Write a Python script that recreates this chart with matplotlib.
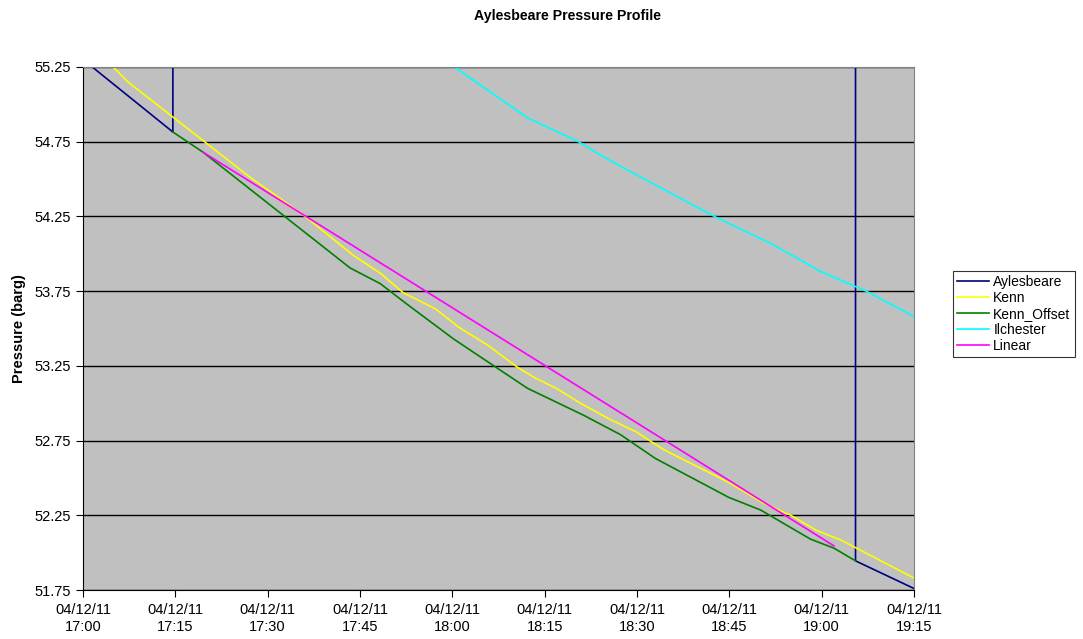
import matplotlib.pyplot as plt
import matplotlib.dates as mdates
import pandas as pd

plt.rcParams['font.family'] = ['Liberation Sans', 'DejaVu Sans']

day = "2011-12-04 "

ayl_times = ["17:00:00", "17:14:36", "17:14:36", "19:05:30", "19:05:30", "19:15:00"]
ayl_vals = [55.30, 54.815, 58.0, 58.0, 51.945, 51.76]

kenn_times = ["17:03:00", "17:07:18", "17:27:12", "17:31:42", "17:36:24", "17:43:54",
              "17:48:18", "17:52:00", "17:57:18", "18:01:00", "18:05:42", "18:10:36",
              "18:13:12", "18:17:06", "18:20:48", "18:25:42", "18:29:48", "18:34:18",
              "18:44:54", "18:50:36", "18:55:00", "18:59:06", "19:03:06", "19:15:00"]
kenn_vals = [55.33, 55.15, 54.51, 54.38, 54.24, 53.99,
             53.87, 53.74, 53.63, 53.51, 53.39, 53.24,
             53.175, 53.095, 53.00, 52.89, 52.81, 52.69,
             52.47, 52.33, 52.25, 52.15, 52.085, 51.83]

offset_times = ["17:14:36", "17:19:30", "17:43:24", "17:48:18", "17:52:24", "18:00:12",
                "18:12:12", "18:21:18", "18:27:18", "18:33:00", "18:44:54", "18:50:06",
                "18:58:12", "19:02:00", "19:05:30"]
offset_vals = [54.815, 54.68, 53.905, 53.80, 53.67, 53.43,
               53.10, 52.92, 52.79, 52.63, 52.37, 52.285,
               52.09, 52.03, 51.945]

ilc_times = ["18:00:00", "18:12:12", "18:20:30", "18:24:06", "18:27:48", "18:42:48",
             "18:51:42", "18:59:54", "19:07:30", "19:15:00"]
ilc_vals = [55.26, 54.91, 54.75, 54.66, 54.575, 54.245,
            54.07, 53.88, 53.745, 53.58]

lin_times = ["17:19:30", "19:02:00"]
lin_vals = [54.68, 52.045]

yticks = [51.75, 52.25, 52.75, 53.25, 53.75, 54.25, 54.75, 55.25]


def to_dt(times):
    return pd.to_datetime([day + t for t in times])


fig = plt.figure(figsize=(10.83, 6.39), dpi=100)
ax = fig.add_axes([83 / 1083, 1 - 590 / 639, (914 - 83) / 1083, (590 - 67) / 639])
ax.set_facecolor('#C0C0C0')

ax.plot(to_dt(ayl_times), ayl_vals, color='#000080', lw=1.2, label='Aylesbeare')
ax.plot(to_dt(kenn_times), kenn_vals, color='#FFFF00', lw=1.2, label='Kenn')
ax.plot(to_dt(offset_times), offset_vals, color='#008000', lw=1.2, label='Kenn_Offset')
ax.plot(to_dt(ilc_times), ilc_vals, color='#00FFFF', lw=1.2, label='Ilchester')
ax.plot(to_dt(lin_times), lin_vals, color='#FF00FF', lw=1.2, label='Linear')

ax.set_ylim(51.75, 55.25)
ax.set_yticks(yticks)
ax.set_yticklabels([f"{v:.2f}" for v in yticks])
ax.yaxis.grid(True, color='black', lw=1)
ax.set_axisbelow(True)

x0 = pd.Timestamp(day + "17:00:00")
x1 = pd.Timestamp(day + "19:15:00")
ax.set_xlim(x0, x1)
ax.set_xticks(pd.date_range(x0, x1, freq='15min'))
ax.xaxis.set_major_formatter(mdates.DateFormatter('%d/%m/%y\n%H:%M'))

ax.tick_params(axis='both', direction='out', length=5, labelsize=10.5, colors='black')
ax.tick_params(axis='x', pad=4)
for lbl in ax.get_xticklabels():
    lbl.set_horizontalalignment('center')
    lbl.set_linespacing(1.3)

ax.spines['top'].set_color('#808080')
ax.spines['right'].set_color('#808080')
ax.spines['left'].set_color('black')
ax.spines['bottom'].set_color('black')

ax.set_ylabel('Pressure (barg)', fontsize=10.5, fontweight='bold', labelpad=6)
fig.text(567 / 1083, 1 - 16 / 639, 'Aylesbeare Pressure Profile', ha='center', va='center',
         fontsize=10.2, fontweight='bold')

leg = fig.legend(loc='center left', bbox_to_anchor=(953 / 1083, 1 - 314 / 639), fontsize=10,
                 frameon=True, fancybox=False, edgecolor='black', handlelength=2.3,
                 labelspacing=0.15, borderpad=0.3, handletextpad=0.3, borderaxespad=0)
leg.get_frame().set_linewidth(0.8)

plt.savefig('out.png', dpi=100)
